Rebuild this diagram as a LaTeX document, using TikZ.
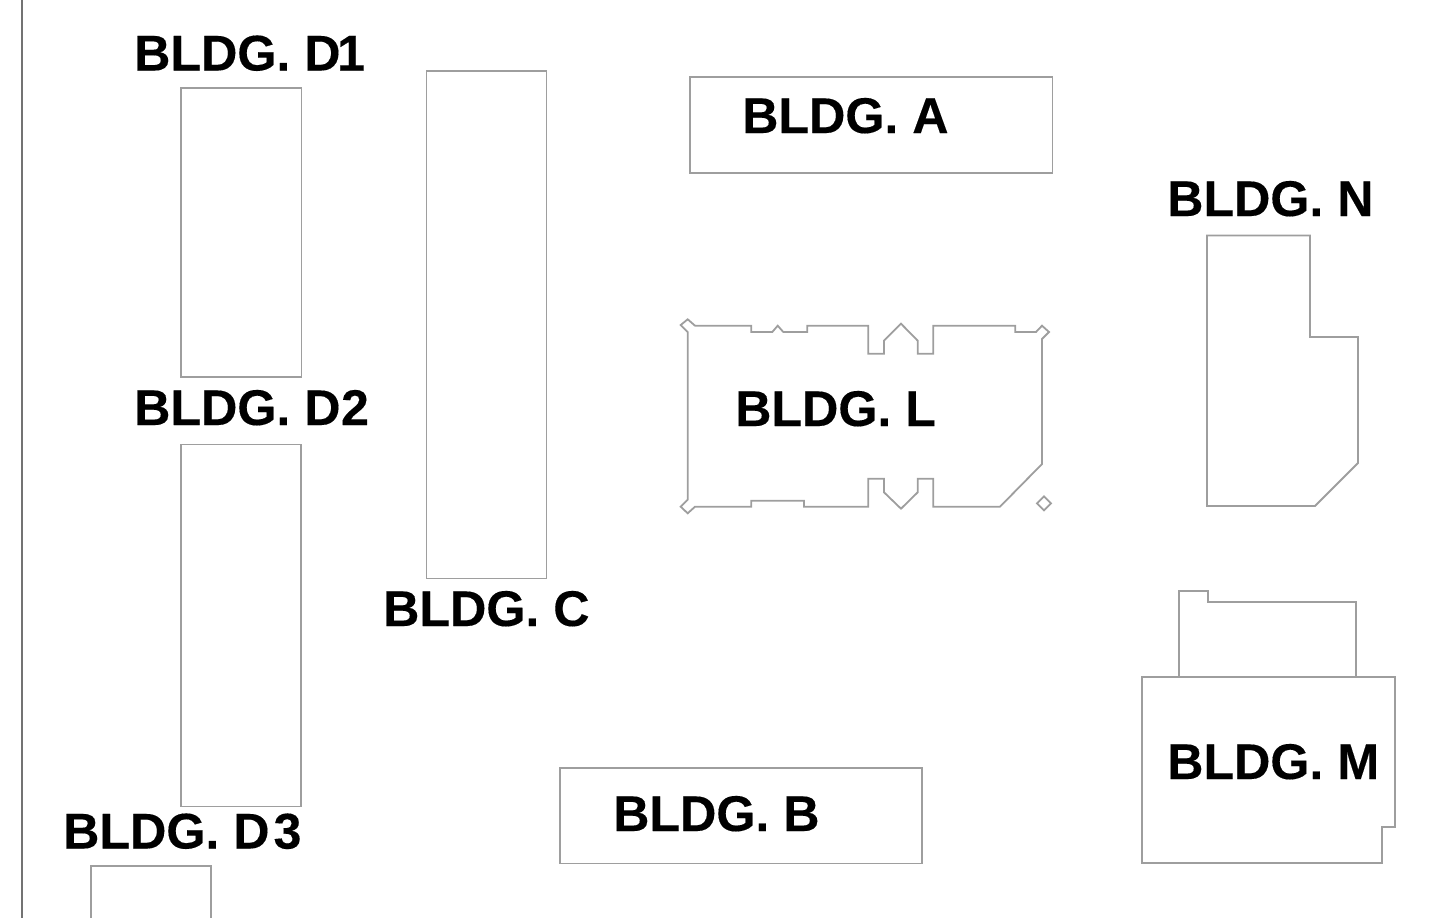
\documentclass[tikz,border=0pt]{standalone}
\usepackage{fontspec}
\setmainfont{Liberation Sans}[Kerning=Off]
\newfontface\lblface{Liberation Sans Bold}[Kerning=Off,FakeBold=0.25]
\tikzset{
  wall/.style={draw=black!38, line width=1.8pt, line join=miter},
  rule/.style={draw=black!55, line width=2pt},
  lbl/.style={anchor=base west, inner sep=0pt, font=\fontsize{50.2}{50.2}\lblface, text=black},
}
\begin{document}
\begin{tikzpicture}[x=1pt,y=-1pt]
\useasboundingbox (0,0) rectangle (1443,918);
\clip (0,0) rectangle (1443,918);
\draw[rule] (21.5,0) -- (21.5,918);
% rectangular buildings
\draw[wall] (181,88) rectangle (301.5,377);
\draw[wall] (426.5,71) rectangle (546.5,578.5);
\draw[wall] (690,77) rectangle (1052.5,173);
\draw[wall] (181,444.5) rectangle (301,806.5);
\draw[wall] (91,866) rectangle (211,930);
\draw[wall] (560,768) rectangle (922,863.5);
% Building N
\draw[wall] (1207,235.5) -- (1310,235.5) -- (1310,337) -- (1358,337) -- (1358,463) -- (1315,506) -- (1207,506) -- cycle;
% Building M
\draw[wall] (1178.7,676.7) -- (1178.7,590.7) -- (1208.3,590.7) -- (1208.3,602) -- (1355.7,602) -- (1355.7,676.7);
\draw[wall] (1141.7,676.7) -- (1394.7,676.7) -- (1394.7,826.7) -- (1382,826.7) -- (1382,863.3) -- (1141.7,863.3) -- cycle;
% Building L
\draw[wall] (687.7,332) -- (680.7,325) -- (687.7,319.3) -- (695,325.7) -- (751.3,325.7) -- (751.3,332) -- (772.3,332) -- (777.7,325.7) -- (783.3,332) -- (807.3,332) -- (807.3,325.7) -- (868.3,325.7) -- (868.3,353.7) -- (884,353.7) -- (884,340.7) -- (901,323.7) -- (917.7,340.7) -- (917.7,353.7) -- (933.3,353.7) -- (933.3,325.7) -- (1015.3,325.7) -- (1015.3,332) -- (1036,332) -- (1042,325.7) -- (1049,332) -- (1042,339) -- (1042,464) -- (1000,506.7) -- (933.3,506.7) -- (933.3,478.7) -- (917.7,478.7) -- (917.7,492.3) -- (901,508.7) -- (884,492.3) -- (884,478.7) -- (868.3,478.7) -- (868.3,506.7) -- (804,506.7) -- (804,500.7) -- (751.3,500.7) -- (751.3,506.7) -- (695,506.7) -- (687.7,513.3) -- (680.7,506.7) -- (687.7,499.7) -- cycle;
\draw[wall] (1044,496.3) -- (1051,503.3) -- (1044,510.3) -- (1037,503.3) -- cycle;
% labels
\node[lbl] (d1) at (134,70.5) {BLDG. D\kern-3.5pt 1};
\node[lbl] (d2) at (134,425) {BLDG. D\kern0.5pt 2};
\node[lbl] (d3) at (63,848.5) {BLDG. D\kern4pt 3};
\node[lbl] (a) at (742,133) {BLDG. A};
\node[lbl] (n) at (1167,216) {BLDG. N};
\node[lbl] (l) at (735,426) {BLDG. L};
\node[lbl] (c) at (383,626) {BLDG. C};
\node[lbl] (b) at (613,831) {BLDG. B};
\node[lbl] (m) at (1167,779) {BLDG. M};
\end{tikzpicture}
\end{document}
